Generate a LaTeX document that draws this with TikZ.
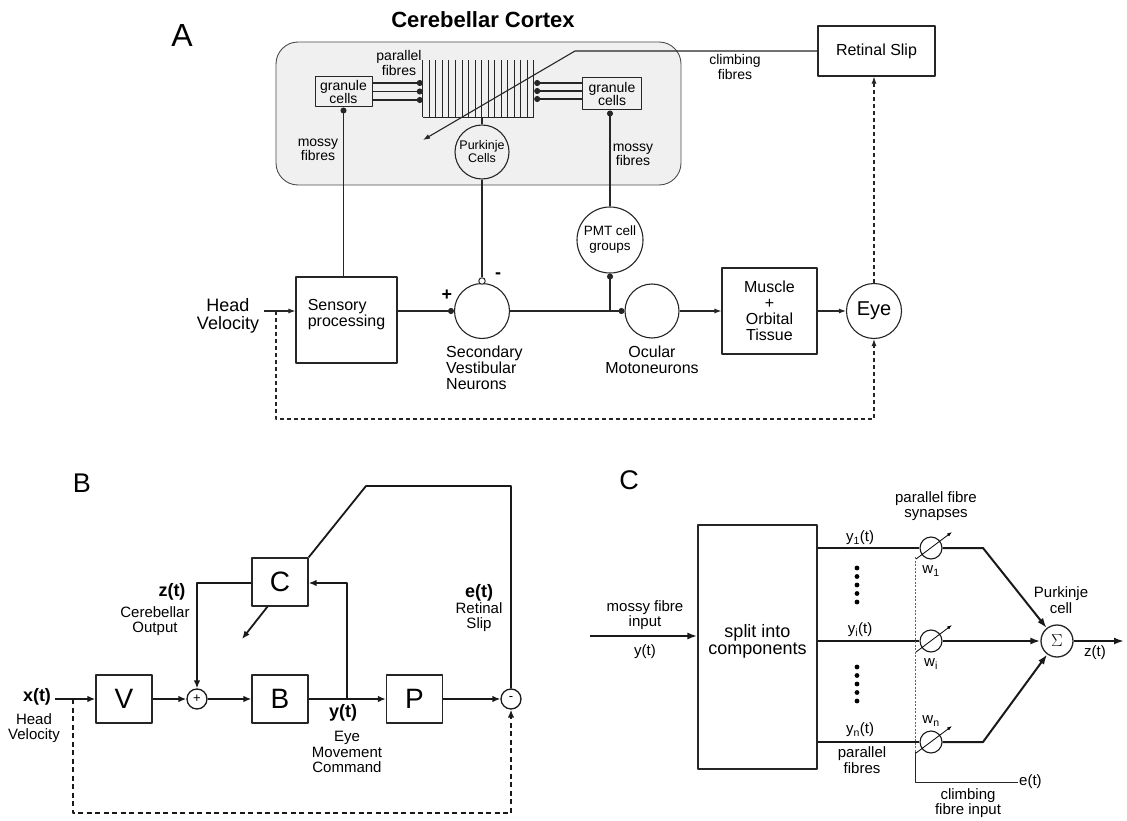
\documentclass[tikz,border=0pt]{standalone}
\usepackage{fontspec}
\setmainfont{Liberation Sans}
\usetikzlibrary{arrows.meta}
\tikzset{
  every node/.style={inner sep=1pt, align=center},
  tA/.style={font=\fontsize{32}{34}\selectfont},
  tPanel/.style={font=\fontsize{27}{29}\selectfont},
  tTitle/.style={font=\bfseries\fontsize{22}{24}\selectfont},
  tHead/.style={font=\fontsize{18}{18}\selectfont},
  tMid/.style={font=\fontsize{16}{16}\selectfont},
  tSmall/.style={font=\fontsize{14}{14.5}\selectfont},
  tTiny/.style={font=\fontsize{12.5}{13}\selectfont},
  tB/.style={font=\fontsize{15}{15.5}\selectfont},
  tBold/.style={font=\bfseries\fontsize{18}{19}\selectfont},
  lineA/.style={line width=1.1pt, draw=black!85},
  lineB/.style={line width=1.8pt, draw=black!90},
  lineC/.style={line width=2pt, draw=black!90},
  arrA/.style={-{Latex[length=7pt,width=5pt]}},
  arrB/.style={-{Latex[length=8pt,width=6.5pt]}},
  arrC/.style={-{Latex[length=10pt,width=7pt]}},
  dotend/.style={-{Circle[length=6pt]}},
  dashA/.style={dash pattern=on 4pt off 3pt},
  dashB/.style={dash pattern=on 5pt off 3.5pt},
  boxA/.style={draw=black!85, line width=1.1pt, inner sep=0pt},
  gbox/.style={draw=black!85, line width=1pt, inner sep=0pt, font=\fontsize{14}{13.5}\selectfont},
  circA/.style={circle, draw=black!85, line width=1.1pt, inner sep=0pt},
  bbox/.style={draw=black!85, line width=1.3pt, minimum width=56, minimum height=48, inner sep=0pt, font=\fontsize{28}{28}\selectfont},
  sumc/.style={circle, draw=black!90, line width=1.3pt, minimum size=20, inner sep=0pt, font=\fontsize{13}{13}\selectfont},
  syn/.style={circle, draw=black!90, line width=1.1pt, minimum size=22, inner sep=0pt},
}
\begin{document}
\begin{tikzpicture}[x=1pt,y=-1pt, line join=round]
\useasboundingbox (0,0) rectangle (1127,821);
\fill[white] (0,0) rectangle (1127,821);

% ================= Panel A =================
\node[tA] (labA) at (182,35) {A};
\node[tTitle] (title) at (483,20) {Cerebellar Cortex};
\node[draw=black!70, fill=black!6, rounded corners=22pt, minimum width=405, minimum height=143, line width=0.9pt, inner sep=0pt] (cortex) at (478.5,113.5) {};

\node[gbox, minimum width=57, minimum height=30] (gl) at (343.5,92) {granule\\cells};
\node[gbox, minimum width=59, minimum height=32] (gr) at (612,94) {granule\\cells};

% parallel fibre comb
\node[minimum width=111, minimum height=57, inner sep=0pt] (comb) at (478.5,88.5) {};
\foreach \i in {0,...,17}
  \draw[line width=0.9pt, black!85] ([xshift={\i*6.53pt}]comb.north west) -- ([xshift={\i*6.53pt}]comb.south west);
\draw[line width=0.9pt, black!85] (comb.south west) -- (comb.south east);
\foreach \y in {83,91.5,100}
  \draw[lineA, dotend] (gl.east |- 0,\y) -- (comb.west |- 0,\y);
\foreach \y in {83,91,99}
  \draw[lineA, dotend] (gr.west |- 0,\y) -- (comb.east |- 0,\y);
\node[tSmall] (pfl) at (399,63) {parallel\\fibres};

\node[circA, minimum size=54, tTiny] (pk) at (482,152) {Purkinje\\Cells};
\draw[lineA] (pk.north) -- (pk.north |- comb.south);

\node[tSmall] (mfl) at (318,150) {mossy\\fibres};
\node[tSmall] (mfr) at (633,155) {mossy\\fibres};

% retinal slip & climbing fibres
\node[boxA, minimum width=117, minimum height=50, tMid] (ret) at (876.5,51) {Retinal Slip};
\coordinate (cfk) at (575,51);
\coordinate (cft) at (423,140);
\draw[lineA, arrA] (ret.west) -- (cfk) -- (cft);
\node[tSmall] (cfl) at (735,67) {climbing\\fibres};

% main pathway
\node[boxA, minimum width=101, minimum height=86] (sens) at (346.5,320) {};
\node[tMid, align=left] (sensl) at (346.5,315) {Sensory\\processing};
\node[circA, minimum size=55] (svn) at (482,311) {};
\node[circle, draw=black!85, line width=1pt, fill=white, minimum size=6.5, inner sep=0pt] (inh) at (482,281) {};
\draw[lineA] (pk.south) -- (inh.north);
\node[font=\bfseries\fontsize{18}{18}\selectfont] (minusA) at (498,276) {-};
\node[font=\bfseries\fontsize{18}{18}\selectfont] (plusA) at (447,295) {+};
\draw[lineA, dotend] (sens.north -| gl.south) -- (gl.south);
\draw[lineA, dotend] (sens.east |- svn.west) -- (svn.west);

\coordinate (hv) at (264,311);
\draw[lineA, arrA] (hv) -- (sens.west |- hv);
\node[tHead] (hvl) at (228,316) {Head\\Velocity};

\node[tMid, anchor=west, align=left] (svnl) at (445,368) {Secondary\\Vestibular\\Neurons};

\node[circA, minimum size=66, font=\fontsize{13.5}{15}\selectfont] (pmt) at (610,240) {PMT cell\\groups};
\node[circA, minimum size=54] (oc) at (652,311) {};
\coordinate (jn) at (610,311);
\draw[lineA, dotend] (svn.east) -- (oc.west);
\draw[lineA, dotend] (jn) -- (pmt.south);
\draw[lineA, dotend] (pmt.north) -- (pmt.north |- gr.south);
\node[tMid] (ocl) at (652,360) {Ocular\\Motoneurons};

\node[boxA, minimum width=95, minimum height=86, tMid] (mus) at (769.5,311) {Muscle\\+\\Orbital\\Tissue};
\node[circA, minimum size=55, font=\fontsize{20}{20}\selectfont] (eye) at (874,311) {Eye};
\draw[lineA, arrA] (oc.east) -- (mus.west);
\draw[lineA, arrA] (mus.east) -- (eye.west);

\draw[lineA, dashA, arrA] (eye.north) -- (eye.north |- ret.south);
\coordinate (dv) at (276,311);
\draw[lineA, dashA, arrA] (dv) -- (dv |- 0,419) -| (eye.south);

% ================= Panel B =================
\node[tPanel] (labB) at (82,483) {B};
\node[bbox] (V) at (124,699) {V};
\node[sumc] (sum) at (197,699) {+};
\node[bbox] (Bb) at (280,699) {B};
\node[bbox] (P) at (414.5,699) {P};
\node[sumc] (minus) at (511,699) {-};
\node[bbox] (C) at (280,582) {C};

\coordinate (xin) at (55,699);
\coordinate (xd) at (73,699);
\coordinate (yj) at (347,699);
\coordinate (cout) at (242,639);
\coordinate (cstart) at (268,606);
\coordinate (ek) at (366,486);

\draw[lineB, arrB] (xin) -- (V.west);
\draw[lineB, arrB] (V.east) -- (sum.west);
\draw[lineB, arrB] (sum.east) -- (Bb.west);
\draw[lineB, arrB] (Bb.east) -- (P.west);
\draw[lineB, arrB] (P.east) -- (minus.west);
\draw[lineB, arrB] (yj) -- (yj |- 0,583) -- (C.east |- 0,583);
\draw[lineB, arrB] (C.west |- 0,583) -| (sum.north);
\draw[lineB, arrB] (cstart) -- (cout);
\draw[lineB] (C.north east) -- (ek) -| (minus.north);
\draw[lineB, dashB, arrB] (xd) -- (xd |- 0,813) -| (minus.south);

\node[tBold] (xt) at (37,697) {x(t)};
\node[tB] (xtl) at (34,728) {Head\\Velocity};
\node[tBold] (zt) at (172,592) {z(t)};
\node[tB] (ztl) at (155,621) {Cerebellar\\Output};
\node[tBold] (et) at (479,593) {e(t)};
\node[tB] (etl) at (479,617) {Retinal\\Slip};
\node[tBold] (yt) at (343,713) {y(t)};
\node[tB] (ytl) at (347,752) {Eye\\Movement\\Command};

% ================= Panel C =================
\node[tPanel] (labC) at (629,480) {C};
\node[boxA, line width=1.2pt, minimum width=119, minimum height=244] (split) at (757.5,647) {};
\node[font=\fontsize{18}{17}\selectfont] (splitl) at (757.5,641) {split into\\components};
\coordinate (mf) at (590,636);
\draw[lineC, arrC] (mf) -- (split.west |- mf);
\node[tB] (mfil) at (645,615) {mossy fibre\\input};
\node[tB] (ytc) at (645,652) {y(t)};

\foreach \n/\y in {1/548, i/641, n/742} {
  \node[syn] (s\n) at (931,\y) {};
  \draw[lineC] (split.east |- s\n) -- (s\n.west);
  \draw[line width=0.8pt, -{Latex[length=5pt,width=3.5pt]}] ([shift={(-15,11)}]s\n.center) -- ([shift={(21,-16)}]s\n.center);
}
\node[circA, line width=1.3pt, minimum size=32, font=\fontsize{17}{17}\selectfont] (sig) at (1057,641) {$\Sigma$};
\coordinate (k1) at (983,548);
\coordinate (kn) at (983,742);
\coordinate (zout) at (1124,641);
\draw[lineC, arrC] (s1.east) -- (k1) -- (sig);
\draw[lineC, arrC] (si.east) -- (sig);
\draw[lineC, arrC] (sn.east) -- (kn) -- (sig);
\draw[lineC, arrC] (sig) -- (zout);

\node[tB] (y1l) at (860,538) {y\textsubscript{1}(t)};
\node[tB] (yil) at (860,630) {y\textsubscript{i}(t)};
\node[tB] (ynl) at (860,730) {y\textsubscript{n}(t)};
\node[tB] (w1l) at (931,571) {w\textsubscript{1}};
\node[tB] (wil) at (931,664) {w\textsubscript{i}};
\node[tB] (wnl) at (931,721) {w\textsubscript{n}};
\node[tB] (pfs) at (936,506) {parallel fibre\\synapses};
\node[tB] (pkc) at (1061,600) {Purkinje\\cell};
\node[tB] (ztc) at (1095,653) {z(t)};
\node[tB] (pfc) at (862,760) {parallel\\fibres};

\foreach \y in {568,576.5,585,593.5,602,667,675.5,684,692.5,701}
  \fill (857,\y) circle (2.4pt);

\coordinate (cf0) at (915,557);
\coordinate (cf1) at (915,752);
\coordinate (cf2) at (915,782);
\coordinate (cfe) at (1018,782);
\draw[line width=0.7pt, black!60, dash pattern=on 2pt off 1.5pt] (cf0) -- (cf1);
\draw[line width=0.8pt, black!85] (cf1) -- (cf2) -- (cfe);
\node[tB, anchor=west] (etc) at (cfe) {e(t)};
\node[tB] (cfil) at (968,803) {climbing\\fibre input};
\end{tikzpicture}
\end{document}
